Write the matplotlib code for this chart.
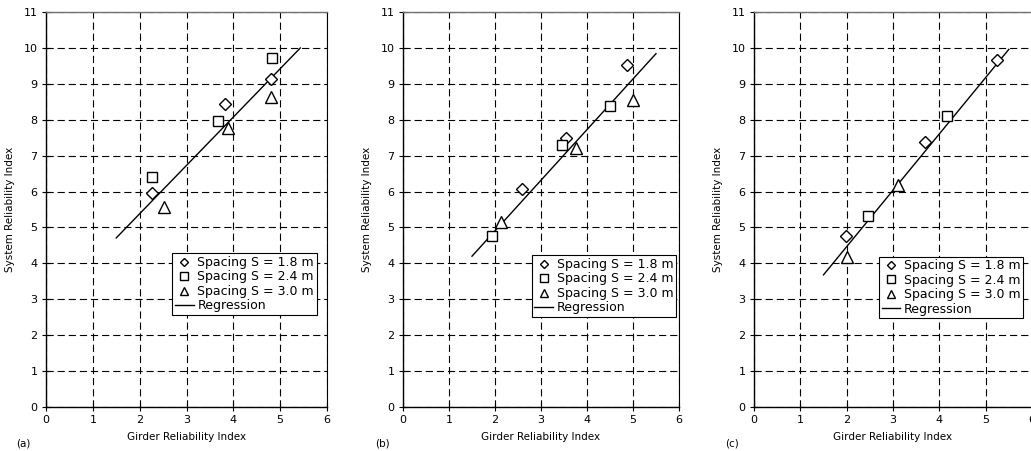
import numpy as np
import matplotlib
matplotlib.use("Agg")
import matplotlib.pyplot as plt
from matplotlib.lines import Line2D

plt.rcParams['font.family'] = ['DejaVu Sans']

panel_labels = ["(a)", "(b)", "(c)"]
series_labels = ["Spacing S = 1.8 m", "Spacing S = 2.4 m", "Spacing S = 3.0 m"]

# Panel (a)
a_d_x = [2.26, 3.82, 4.81]; a_d_y = [5.95, 8.43, 9.13]
a_s_x = [2.26, 3.67, 4.82]; a_s_y = [6.41, 7.97, 9.73]
a_t_x = [2.53, 3.89, 4.80]; a_t_y = [5.58, 7.78, 8.62]
a_reg = (1.346, 2.69, 1.5, 5.43)  # slope, intercept, x start, x end

# Panel (b)
b_d_x = [2.59, 3.55, 4.86]; b_d_y = [6.07, 7.48, 9.53]
b_s_x = [1.94, 3.46, 4.51]; b_s_y = [4.77, 7.30, 8.37]
b_t_x = [2.12, 3.77, 5.01]; b_t_y = [5.14, 7.20, 8.56]
b_reg = (1.41, 2.085, 1.5, 5.5)

# Panel (c)
c_d_x = [1.98, 3.68, 5.25]; c_d_y = [4.77, 7.39, 9.65]
c_s_x = [2.46, 4.16]; c_s_y = [5.32, 8.09]
c_t_x = [2.00, 3.10]; c_t_y = [4.19, 6.18]
c_reg = (1.57, 1.325, 1.5, 5.5)

panels = [
    (a_d_x, a_d_y, a_s_x, a_s_y, a_t_x, a_t_y, a_reg),
    (b_d_x, b_d_y, b_s_x, b_s_y, b_t_x, b_t_y, b_reg),
    (c_d_x, c_d_y, c_s_x, c_s_y, c_t_x, c_t_y, c_reg),
]

W, H = 1031, 451
fig = plt.figure(figsize=(W / 100, H / 100), dpi=100)

ax_px = [(46, 281), (403, 276), (754, 278)]
legend_boxes = [(0.45, 0.233), (0.467, 0.228), (0.45, 0.225)]
label_x_px = [23, 382, 732]

for i, (dx, dy, sx, sy, tx, ty, reg) in enumerate(panels):
    left, width = ax_px[i]
    ax = fig.add_axes([left / W, 44 / H, width / W, 395 / H])
    ax.set_xlim(0, 6)
    ax.set_ylim(0, 11)
    ax.set_xticks(range(0, 7))
    ax.set_yticks(range(0, 12))
    ax.grid(True, color='black', linestyle=(0, (6.5, 3.5)), linewidth=0.8)
    ax.set_axisbelow(True)
    for s in ['left', 'bottom', 'right']:
        ax.spines[s].set_linewidth(1.0)
        ax.spines[s].set_color('black')
    ax.spines['right'].set_linewidth(0.8)
    ax.spines['top'].set_color('#707070')
    ax.spines['top'].set_linewidth(1.0)
    ax.tick_params(direction='inout', length=6, width=0.8, labelsize=8,
                   top=False, right=False, pad=3)

    slope, icpt, x0, x1 = reg
    xr = np.array([x0, x1])
    ax.plot(xr, slope * xr + icpt, color='black', linewidth=1.0, zorder=3)
    kw = dict(linestyle='none', markerfacecolor='white', markeredgecolor='black',
              markeredgewidth=1.0, zorder=4)
    ax.plot(dx, dy, marker='D', markersize=6, **kw)
    ax.plot(sx, sy, marker='s', markersize=7.5, **kw)
    ax.plot(tx, ty, marker='^', markersize=8, **kw)

    handles = [
        Line2D([], [], marker='D', markersize=4.5, **kw),
        Line2D([], [], marker='s', markersize=6, **kw),
        Line2D([], [], marker='^', markersize=6, **kw),
        Line2D([], [], color='black', linewidth=1.0),
    ]
    leg = ax.legend(handles, series_labels + ["Regression"],
                    loc='lower left', bbox_to_anchor=legend_boxes[i],
                    fontsize=9, frameon=True, fancybox=False,
                    edgecolor='black', framealpha=1, borderpad=0.2,
                    handlelength=1.5, handletextpad=0.3, labelspacing=0.12,
                    borderaxespad=0)
    leg.get_frame().set_linewidth(0.8)

    ax.set_ylabel("System Reliability Index", fontsize=7.5, labelpad=6)
    ax.set_xlabel("Girder Reliability Index", fontsize=7.5, labelpad=5)
    fig.text(label_x_px[i] / W, 1 - 443 / H, panel_labels[i], fontsize=7.5,
             ha='center', va='center')

fig.savefig("out.png", dpi=100)
